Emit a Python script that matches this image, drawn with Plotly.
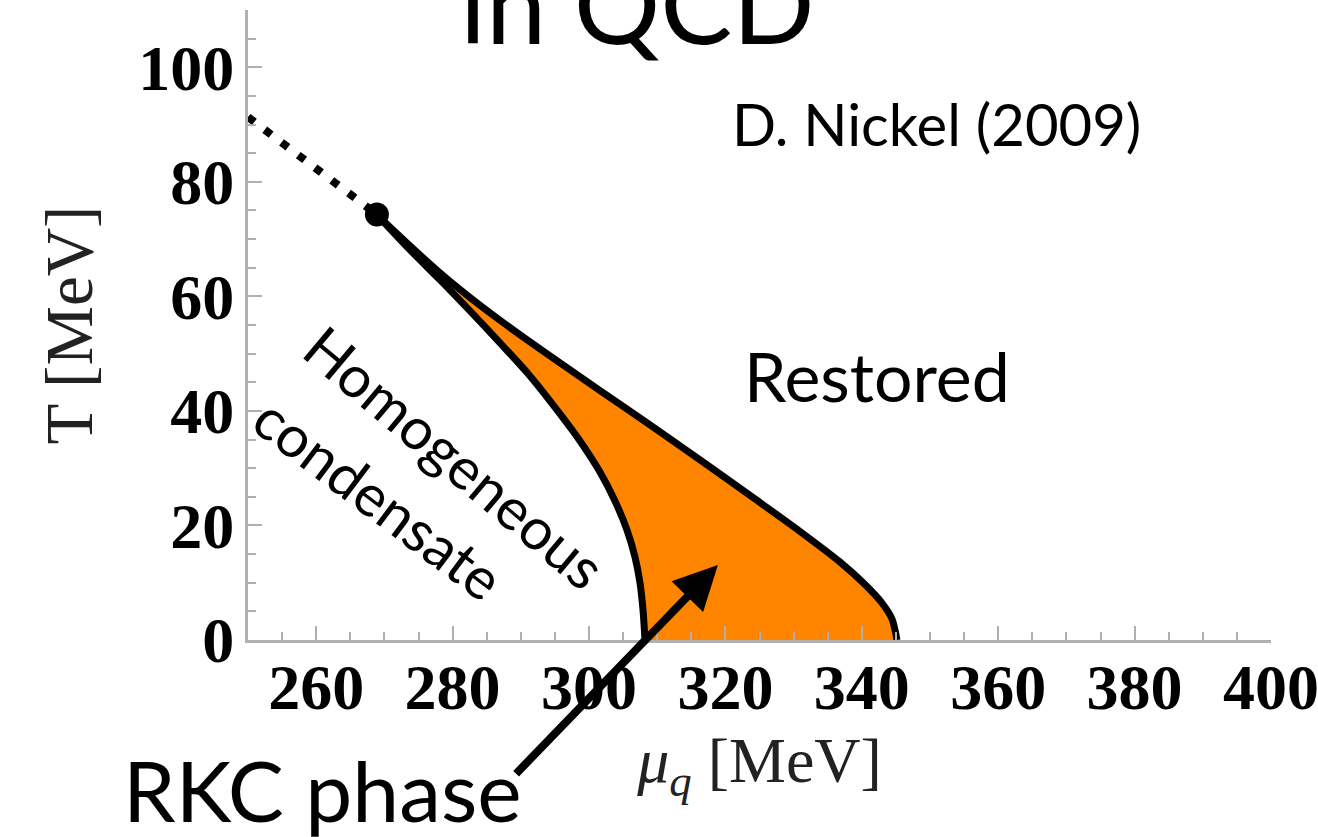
import plotly.graph_objects as go

# ---- data ----
lower_mu = [268.91, 273.75, 278.15, 282.55, 286.95, 291.35, 295.75, 298.68, 301.61,
            303.81, 305.57, 306.74, 307.48, 307.92, 308.21]
lower_T = [74.24, 68.12, 62.88, 57.47, 51.88, 46.11, 39.48, 34.76, 29.34,
           24.28, 19.21, 14.50, 9.96, 5.24, 0.0]

upper_mu = [268.91, 273.75, 278.15, 282.55, 286.95, 291.35, 295.75, 301.61, 308.94,
            316.28, 323.61, 330.94, 336.80, 340.47, 342.96, 344.43, 345.16]
upper_T = [74.24, 68.82, 64.10, 59.81, 55.83, 52.05, 48.38, 43.56, 37.55,
           31.44, 25.24, 18.95, 13.62, 9.69, 6.46, 3.67, 0.0]

crossover_mu = [250.0, 268.9]
crossover_T = [91.3, 74.3]

cp_mu = [268.9]
cp_T = [74.3]

arrow_head = (318.9, 13.1)
arrow_tail = (289.1, -23.6)

x_range = [250, 400]
y_range = [0, 110]

ORANGE = "rgb(255,133,0)"
AXIS_GRAY = "#b0b0b0"
SANS = "Lato"
SERIF = "Liberation Serif"

fig = go.Figure()

# orange inhomogeneous region
fig.add_trace(go.Scatter(
    x=lower_mu + upper_mu[::-1],
    y=lower_T + upper_T[::-1],
    fill="toself", fillcolor=ORANGE,
    line=dict(width=0, shape="spline", smoothing=0.8),
    mode="lines", hoverinfo="skip", showlegend=False))

# boundary lines
fig.add_trace(go.Scatter(x=lower_mu, y=lower_T, mode="lines",
                         line=dict(color="black", width=7, shape="spline", smoothing=0.8),
                         showlegend=False))
fig.add_trace(go.Scatter(x=upper_mu, y=upper_T, mode="lines",
                         line=dict(color="black", width=7, shape="spline", smoothing=0.8),
                         showlegend=False))
# dotted crossover
fig.add_trace(go.Scatter(x=crossover_mu, y=crossover_T, mode="lines",
                         line=dict(color="black", width=8, dash="8px,13px"),
                         showlegend=False, cliponaxis=False))
# critical point
fig.add_trace(go.Scatter(x=cp_mu, y=cp_T, mode="markers",
                         marker=dict(color="black", size=24),
                         showlegend=False))

def px_x(p):
    return (p - 248) / 1023.0

def px_y(p):
    return (640 - p) / 630.0

annotations = [
    dict(text="in QCD", x=px_x(637), y=px_y(2), xref="paper", yref="paper",
         showarrow=False, font=dict(family=SANS, size=108, color="black"),
         xanchor="center", yanchor="middle"),
    dict(text="D. Nickel (2009)", x=px_x(936), y=px_y(123), xref="paper", yref="paper",
         showarrow=False, font=dict(family=SANS, size=58, color="black"),
         xanchor="center", yanchor="middle"),
    dict(text="Restored", x=px_x(877), y=px_y(376), xref="paper", yref="paper",
         showarrow=False, font=dict(family=SANS, size=68, color="black"),
         xanchor="center", yanchor="middle"),
    dict(text="Homogeneous", x=px_x(455), y=px_y(457), xref="paper", yref="paper",
         showarrow=False, textangle=40, font=dict(family=SANS, size=58, color="black"),
         xanchor="center", yanchor="middle"),
    dict(text="condensate", x=px_x(379), y=px_y(497), xref="paper", yref="paper",
         showarrow=False, textangle=37, font=dict(family=SANS, size=58, color="black"),
         xanchor="center", yanchor="middle"),
    dict(text="RKC phase", x=px_x(322), y=px_y(789), xref="paper", yref="paper",
         showarrow=False, font=dict(family=SANS, size=84, color="black"),
         xanchor="center", yanchor="middle"),
    dict(text="", x=arrow_head[0], y=arrow_head[1], xref="x", yref="y",
         ax=arrow_tail[0], ay=arrow_tail[1], axref="x", ayref="y",
         showarrow=True, arrowhead=2, arrowsize=1.1, arrowwidth=8, arrowcolor="black"),
]

axis_common = dict(
    showgrid=False, zeroline=False, showline=True, linecolor=AXIS_GRAY, linewidth=3,
    ticks="inside", ticklen=14, tickwidth=2, tickcolor=AXIS_GRAY,
    minor=dict(ticks="inside", ticklen=8, tickwidth=2, tickcolor=AXIS_GRAY, dtick=5, showgrid=False),
    tickfont=dict(family=SERIF, size=64, color="black", weight="bold"),
    automargin=False, ticklabeloverflow="allow",
)

fig.update_layout(
    width=1318, height=837,
    margin=dict(l=248, r=47, t=10, b=197),
    paper_bgcolor="white", plot_bgcolor="white",
    xaxis=dict(range=x_range, dtick=20, tick0=0, ticklabelstandoff=-11,
               title=dict(text="<i>μ</i><sub><i>q</i></sub> [MeV]", standoff=16,
                          font=dict(family=SERIF, size=64, color="#222")),
               **axis_common),
    yaxis=dict(range=y_range, dtick=20, tick0=0, ticklabelstandoff=-2,
               title=dict(text="T [MeV]", standoff=24,
                          font=dict(family=SERIF, size=67, color="#222")),
               **axis_common),
    annotations=annotations,
    showlegend=False,
)

fig.write_html("out.html")
